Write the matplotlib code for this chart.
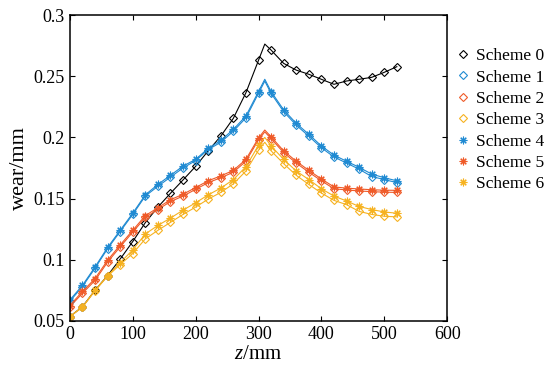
import matplotlib
matplotlib.use("Agg")
import matplotlib.pyplot as plt
from matplotlib.lines import Line2D

# z positions (mm); markers every 20 mm, peak point at 310 has no marker
z = [0, 20, 40, 60, 80, 100, 120, 140, 160, 180, 200, 220, 240, 260, 280, 300,
     310, 320, 340, 360, 380, 400, 420, 440, 460, 480, 500, 520]

scheme0 = [0.0535, 0.0615, 0.075, 0.087, 0.1005, 0.1148, 0.1303, 0.143, 0.1543, 0.1652,
           0.1763, 0.189, 0.201, 0.2156, 0.2365, 0.263, 0.2763, 0.2714, 0.2605, 0.255,
           0.2516, 0.2475, 0.2434, 0.2461, 0.2475, 0.2491, 0.2532, 0.2578]
scheme1 = [0.066, 0.078, 0.093, 0.109, 0.123, 0.137, 0.152, 0.160, 0.1675, 0.175,
           0.181, 0.190, 0.196, 0.205, 0.216, 0.236, 0.246, 0.236, 0.221, 0.210,
           0.201, 0.1915, 0.184, 0.179, 0.174, 0.168, 0.1655, 0.163]
scheme2 = [0.0615, 0.0725, 0.083, 0.098, 0.1105, 0.1225, 0.1345, 0.141, 0.1475, 0.152,
           0.1575, 0.163, 0.167, 0.1715, 0.1805, 0.198, 0.2045, 0.199, 0.1875, 0.179,
           0.1715, 0.1645, 0.158, 0.157, 0.1562, 0.1556, 0.1552, 0.155]
scheme3 = [0.0535, 0.061, 0.0745, 0.0865, 0.096, 0.105, 0.117, 0.124, 0.1305, 0.137,
           0.143, 0.1495, 0.155, 0.162, 0.1725, 0.1895, 0.196, 0.189, 0.1785, 0.169,
           0.1615, 0.1545, 0.1485, 0.145, 0.1395, 0.137, 0.1355, 0.135]
scheme4 = [0.067, 0.079, 0.094, 0.110, 0.124, 0.138, 0.153, 0.1615, 0.169, 0.1765,
           0.182, 0.191, 0.1975, 0.2065, 0.2175, 0.2375, 0.2475, 0.2375, 0.2225, 0.2115,
           0.2025, 0.193, 0.1855, 0.1805, 0.1755, 0.170, 0.167, 0.1645]
scheme5 = [0.0625, 0.074, 0.0845, 0.0995, 0.112, 0.124, 0.136, 0.1425, 0.149, 0.1535,
           0.159, 0.1645, 0.1685, 0.173, 0.182, 0.1995, 0.206, 0.2005, 0.189, 0.1805,
           0.173, 0.166, 0.1595, 0.1585, 0.1578, 0.1572, 0.1568, 0.1567]
scheme6 = [0.0535, 0.0615, 0.075, 0.087, 0.0975, 0.108, 0.121, 0.128, 0.134, 0.1405,
           0.1465, 0.153, 0.1585, 0.1655, 0.176, 0.1935, 0.2, 0.193, 0.182, 0.1725,
           0.1655, 0.158, 0.152, 0.148, 0.1435, 0.141, 0.139, 0.138]

labels = ['Scheme 0', 'Scheme 1', 'Scheme 2', 'Scheme 3', 'Scheme 4', 'Scheme 5', 'Scheme 6']
series = [scheme0, scheme1, scheme2, scheme3, scheme4, scheme5, scheme6]

BLUE = '#1f8ad2'
ORANGE = '#ef5a28'
YELLOW = '#f6b220'
colors = ['black', BLUE, ORANGE, YELLOW, BLUE, ORANGE, YELLOW]
star = (8, 2, 0)
markers = ['D', 'D', 'D', 'D', star, star, star]

plt.rcParams['font.family'] = ['Liberation Serif', 'DejaVu Serif']
plt.rcParams['mathtext.fontset'] = 'custom'
plt.rcParams['mathtext.it'] = 'Liberation Serif:italic'
plt.rcParams['mathtext.rm'] = 'Liberation Serif'

fig = plt.figure(figsize=(5.5, 3.77), dpi=100)
ax = fig.add_axes([0.127, 0.149, 0.686, 0.811])

mark_idx = [i for i, v in enumerate(z) if v % 20 == 0]
handles = []
for y, c, m, lab in zip(series, colors, markers, labels):
    is_star = not isinstance(m, str)
    ms = 5.5 if is_star else 4.5
    fc = c if is_star else 'none'
    ax.plot(z, y, color=c, lw=0.8, marker=m, markevery=mark_idx, ms=ms,
            mfc=fc, mec=c, mew=0.8)
    handles.append(Line2D([], [], ls='none', marker=m, color=c, ms=ms,
                          mfc=fc, mec=c, mew=0.8))

ax.set_xlim(0, 600)
ax.set_ylim(0.05, 0.3)
ax.set_xticks([0, 100, 200, 300, 400, 500, 600])
ax.set_yticks([0.05, 0.1, 0.15, 0.2, 0.25, 0.3])
ax.set_yticklabels(['0.05', '0.1', '0.15', '0.2', '0.25', '0.3'])
ax.tick_params(direction='in', top=True, right=True, length=3.5, width=0.8,
               labelsize=13, pad=4)
for sp in ax.spines.values():
    sp.set_linewidth(1.1)

ax.set_xlabel(r'$z$/mm', fontsize=15, labelpad=1)
ax.set_ylabel('wear/mm', fontsize=16, labelpad=3)

ax.legend(handles, labels, loc='upper left', bbox_to_anchor=(1.0, 0.915),
          frameon=False, fontsize=12.5, handlelength=1.0, handletextpad=0.25,
          labelspacing=0.3, borderaxespad=0.0)

fig.savefig('out.png', dpi=100)
